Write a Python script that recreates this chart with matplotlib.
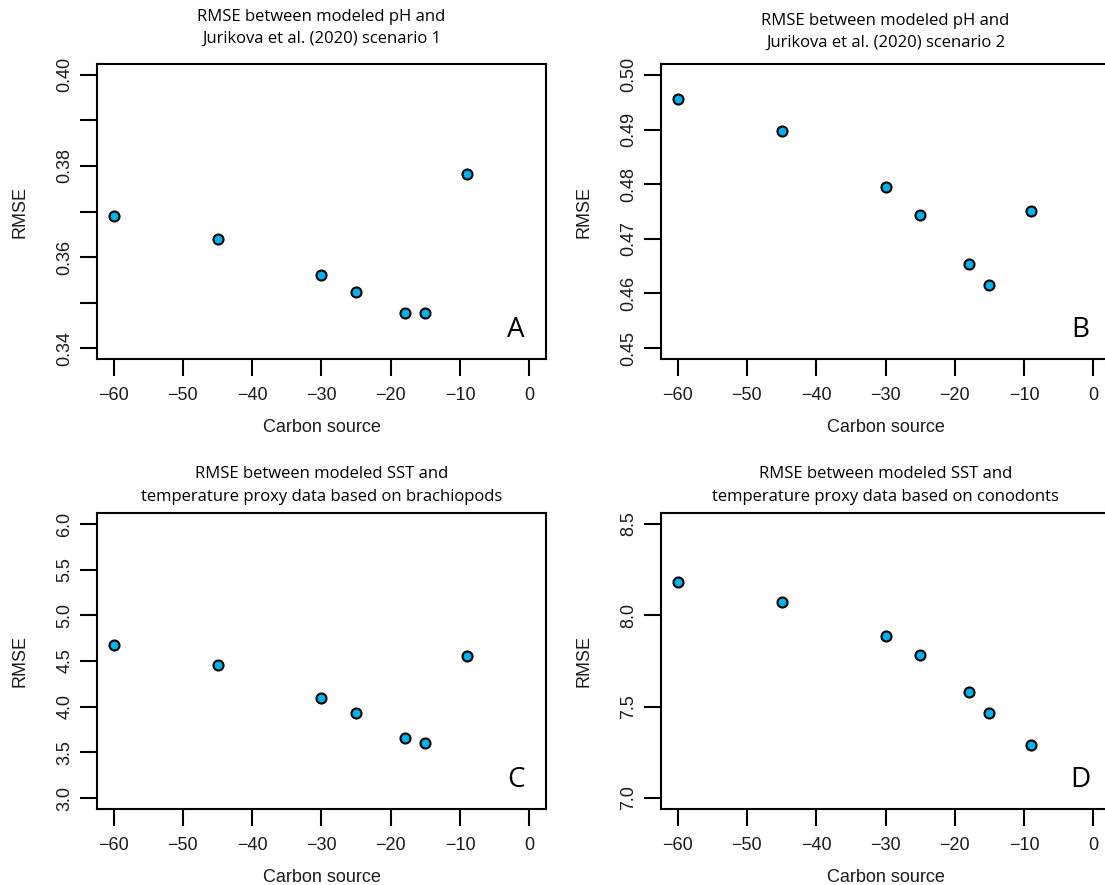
import matplotlib
matplotlib.use("Agg")
import matplotlib.pyplot as plt
from matplotlib.ticker import FixedLocator, FixedFormatter

# ---- data ----
carbon_source = [-60, -45, -30, -25, -18, -15, -9]
rmse_ph_s1 = [0.3690, 0.3640, 0.3560, 0.3524, 0.3477, 0.3476, 0.3782]
rmse_ph_s2 = [0.4956, 0.4897, 0.4795, 0.4744, 0.4654, 0.4616, 0.4751]
rmse_sst_brach = [4.67, 4.46, 4.10, 3.93, 3.66, 3.60, 4.56]
rmse_sst_conod = [8.18, 8.075, 7.886, 7.784, 7.582, 7.467, 7.293]

x_ticks = [-60, -50, -40, -30, -20, -10, 0]
x_tick_labels = ["\u221260", "\u221250", "\u221240", "\u221230", "\u221220", "\u221210", "0"]

titles = [
    ("RMSE between modeled pH and", "Jurikova et al. (2020) scenario 1"),
    ("RMSE between modeled pH and", "Jurikova et al. (2020) scenario 2"),
    ("RMSE between modeled SST and", "temperature proxy data based on brachiopods"),
    ("RMSE between modeled SST and", "temperature proxy data based on conodonts"),
]
panel_letters = ["A", "B", "C", "D"]
series = [rmse_ph_s1, rmse_ph_s2, rmse_sst_brach, rmse_sst_conod]
y_ranges = [(0.34, 0.40), (0.45, 0.50), (3.0, 6.0), (7.0, 8.5)]
y_ticks = [
    [0.34, 0.35, 0.36, 0.37, 0.38, 0.39, 0.40],
    [0.45, 0.46, 0.47, 0.48, 0.49, 0.50],
    [3.0, 3.5, 4.0, 4.5, 5.0, 5.5, 6.0],
    [7.0, 7.5, 8.0, 8.5],
]
y_tick_labels = [
    ["0.34", "", "0.36", "", "0.38", "", "0.40"],
    ["0.45", "0.46", "0.47", "0.48", "0.49", "0.50"],
    ["3.0", "3.5", "4.0", "4.5", "5.0", "5.5", "6.0"],
    ["7.0", "7.5", "8.0", "8.5"],
]

# ---- layout (pixels) ----
W, H = 1105, 885
fig = plt.figure(figsize=(W / 100, H / 100), dpi=100)

# (left, top, width, height) of plot boxes in pixels
boxes = [(97, 64, 449, 295), (661, 64, 449, 295), (97, 513, 449, 296), (661, 513, 449, 296)]
title_y = [(17, 39), (21, 43), (474, 497), (474, 497)]

label_font = "Liberation Sans"
title_font = "Open Sans"
text_color = "#1a1a1a"

for i in range(4):
    l, t, w, h = boxes[i]
    ax = fig.add_axes([l / W, 1 - (t + h) / H, w / W, h / H])
    ax.scatter(carbon_source, series[i], s=52, c="#00B2EE", edgecolors="black",
               linewidths=1.5, zorder=3, clip_on=False)
    ax.set_xlim(-62.4, 2.4)
    lo, hi = y_ranges[i]
    pad = 0.04 * (hi - lo)
    ax.set_ylim(lo - pad, hi + pad)

    ax.xaxis.set_major_locator(FixedLocator(x_ticks))
    ax.xaxis.set_major_formatter(FixedFormatter(x_tick_labels))
    ax.yaxis.set_major_locator(FixedLocator(y_ticks[i]))
    ax.yaxis.set_major_formatter(FixedFormatter(y_tick_labels[i]))

    ax.tick_params(axis="both", direction="out", length=12, width=1.5,
                   labelsize=13, colors="black", labelcolor=text_color)
    ax.tick_params(axis="x", pad=8)
    ax.tick_params(axis="y", pad=5, labelrotation=90)
    for lab in ax.get_yticklabels():
        lab.set_va("center")
        lab.set_fontfamily(label_font)
    for lab in ax.get_xticklabels():
        lab.set_fontfamily(label_font)

    for sp in ax.spines.values():
        sp.set_linewidth(1.5)

    ax.set_xlabel("Carbon source", fontsize=13, family=label_font, color=text_color)
    ax.set_ylabel("RMSE", fontsize=13, family=label_font, color=text_color)
    ax.xaxis.set_label_coords(0.5, -68 / h)
    ax.yaxis.label.set_va("center")
    ax.yaxis.set_label_coords(-77 / w, 0.5)
    ax.xaxis.label.set_va("center")

    ax.text(0.933, 0.098, panel_letters[i], transform=ax.transAxes,
            fontsize=20, family=title_font, ha="center", va="center", color="black")

    cx = (l + w / 2) / W
    for line, yy in zip(titles[i], title_y[i]):
        fig.text(cx, 1 - yy / H, line, ha="center", va="center",
                 fontsize=12, family=title_font, color="black")

fig.savefig("out.png", dpi=100)
